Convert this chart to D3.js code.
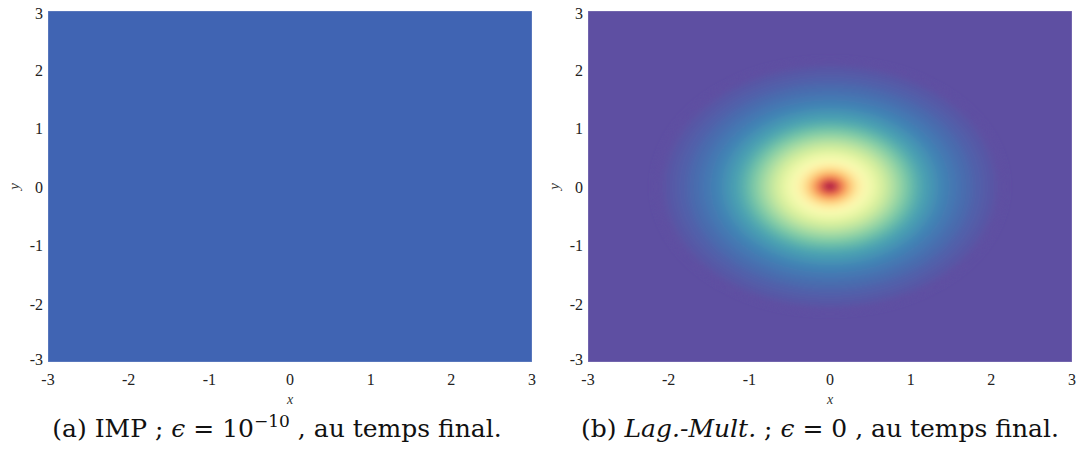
<!DOCTYPE html>
<html><head><meta charset="utf-8">
<script src="https://cdn.jsdelivr.net/npm/d3@7"></script>
<style>body{margin:0;background:#fff}svg{display:block}
.tk{font-family:"Liberation Serif","Times New Roman",Times,serif;}
.cap{font-family:"DejaVu Serif",serif;}
</style>
</head><body>
<script>
// ---- data ----
const xTicks = [-3, -2, -1, 0, 1, 2, 3];
const yTicks = [-3, -2, -1, 0, 1, 2, 3];
const domainX = [-3, 3];
const domainY = [-3, 3];
// panel (a): uniform field at final time
const impLevel = 0.0;
// panel (b): radial profile (radius -> field level)
const radii  = [2.15, 2.05, 1.9, 1.75, 1.6, 1.47, 1.35, 1.24, 1.13, 1.03, 0.94, 0.86, 0.78, 0.7, 0.62, 0.54, 0.47, 0.4, 0.34, 0.28, 0.22, 0.17, 0.12, 0.08, 0.05];
const levels = [0.0, 0.015, 0.03, 0.05, 0.07, 0.09, 0.115, 0.14, 0.17, 0.21, 0.25, 0.29, 0.33, 0.37, 0.41, 0.45, 0.49, 0.54, 0.59, 0.65, 0.72, 0.8, 0.88, 0.95, 1.0];

const W = 1078, H = 459;
const svg = d3.select("body").append("svg").attr("width", W).attr("height", H);
const defs = svg.append("defs");
defs.append("filter").attr("id", "soft").attr("x", "-20%").attr("y", "-20%").attr("width", "140%").attr("height", "140%")
  .append("feGaussianBlur").attr("stdDeviation", "4.5 3.2");

const color = v => d3.interpolateSpectral(1 - v);

function panel(id, x0, x1, drawField, caption, capX) {
  const x = d3.scaleLinear().domain(domainX).range([x0, x1]);
  const y = d3.scaleLinear().domain(domainY).range([362, 11]);
  const g = svg.append("g");
  defs.append("clipPath").attr("id", "clip" + id)
    .append("rect").attr("x", x(-3)).attr("y", y(3)).attr("width", x(3) - x(-3)).attr("height", y(-3) - y(3));
  const plot = g.append("g").attr("clip-path", `url(#clip${id})`);
  drawField(plot, x, y);
  g.append("rect").attr("x", x(-3)).attr("y", y(3)).attr("width", x(3) - x(-3)).attr("height", y(-3) - y(3))
    .attr("fill", "none").attr("stroke", "rgba(255,255,255,0.25)").attr("stroke-width", 1);
  g.selectAll(".xt").data(xTicks).join("text").attr("class", "tk")
    .attr("x", d => x(d)).attr("y", 385).attr("text-anchor", "middle")
    .attr("font-size", 16).attr("fill", "#222")
    .text(d => d);
  g.selectAll(".yt").data(yTicks).join("text").attr("class", "tk")
    .attr("x", x(-3) - 5).attr("y", d => y(d) + (d === 3 ? 8 : d === -3 ? 3 : 6)).attr("text-anchor", "end")
    .attr("font-size", 16).attr("fill", "#222")
    .text(d => d);
  g.append("text").attr("class", "tk").attr("x", x(0)).attr("y", 404).attr("text-anchor", "middle")
    .attr("font-style", "italic").attr("font-size", 14).attr("fill", "#333").text("x");
  g.append("text").attr("class", "tk").attr("transform", `translate(${x(-3) - 33},${y(0)}) rotate(-90)`).attr("text-anchor", "middle")
    .attr("dy", 4).attr("font-style", "italic").attr("font-size", 15).attr("fill", "#333").text("y");
  const t = svg.append("text").attr("class", "cap").attr("x", capX).attr("y", 437).attr("text-anchor", "middle")
    .attr("font-size", 25).attr("fill", "#111");
  caption(t);
}

panel("a", 48, 532, (plot, x, y) => {
  plot.append("rect").attr("x", x(-3)).attr("y", y(3)).attr("width", x(3) - x(-3)).attr("height", y(-3) - y(3))
    .attr("fill", "#4064b3").datum(impLevel);
}, t => {
  t.append("tspan").text("(a) IMP ; ");
  t.append("tspan").attr("font-style", "italic").text("ϵ");
  t.append("tspan").text(" = 10");
  t.append("tspan").attr("dy", -10).attr("font-size", 17).text("−10");
  t.append("tspan").attr("dy", 10).text(" , au temps final.");
}, 277);

panel("b", 588, 1072, (plot, x, y) => {
  plot.append("rect").attr("x", x(-3)).attr("y", y(3)).attr("width", x(3) - x(-3)).attr("height", y(-3) - y(3))
    .attr("fill", color(0));
  const bands = radii.map((r, i) => ({ r, v: levels[i] }));
  plot.append("g").attr("filter", "url(#soft)")
    .selectAll("ellipse").data(bands).join("ellipse")
    .attr("cx", x(0)).attr("cy", y(0))
    .attr("rx", d => x(d.r) - x(0)).attr("ry", d => y(0) - y(d.r))
    .attr("fill", d => color(d.v));
}, t => {
  t.append("tspan").text("(b) ");
  t.append("tspan").attr("font-style", "italic").text("Lag.-Mult.");
  t.append("tspan").text(" ; ");
  t.append("tspan").attr("font-style", "italic").text("ϵ");
  t.append("tspan").text(" = 0 , au temps final.");
}, 820);
</script>
</body></html>
